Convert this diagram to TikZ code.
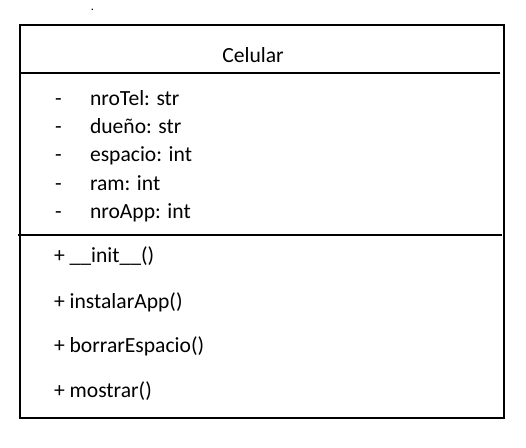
\documentclass[tikz,border=0pt]{standalone}
\usepackage{fontspec}
\setmainfont{Carlito}
\usepackage{tikz}
\usetikzlibrary{positioning}

\begin{document}
\begin{tikzpicture}[x=1pt,y=-1pt,font=\fontsize{21.6}{25}\selectfont]
  \tikzstyle{every node}=[inner sep=0pt,outer sep=0pt,text=black]
  \tikzstyle{attr}=[anchor=base west]
  \tikzstyle{divider}=[line width=1.3pt]

  \useasboundingbox (0,0) rectangle (526,447);

  % class box
  \coordinate (NW) at (20,25);
  \coordinate (SE) at (504,418);
  \draw[line width=2.6pt] (NW) rectangle (SE);
  \draw[divider] (20,73) -- (500,73);
  \draw[divider] (18,235) -- (502,235);

  \node[anchor=base] (dot) at (92.5,10) {\fontsize{10}{10}\selectfont\bfseries .};
  \node[anchor=base] (name) at (253,62) {Celular};

  % attributes
  \foreach \y/\txt [count=\i] in {105/nroTel: str,133/dueño: str,161/espacio: int,190/ram: int,218/nroApp: int}{
    \node[attr] (m\i) at (55,\y) {-};
    \node[attr] (a\i) at (90,\y) {\txt};
  }

  % methods
  \node[attr] (op1) at (54,262) {+ \_\_init\_\_()};
  \node[attr] (op2) at (54,308) {+ instalarApp()};
  \node[attr] (op3) at (54,352) {+ borrarEspacio()};
  \node[attr] (op4) at (54,397) {+ mostrar()};
\end{tikzpicture}
\end{document}
